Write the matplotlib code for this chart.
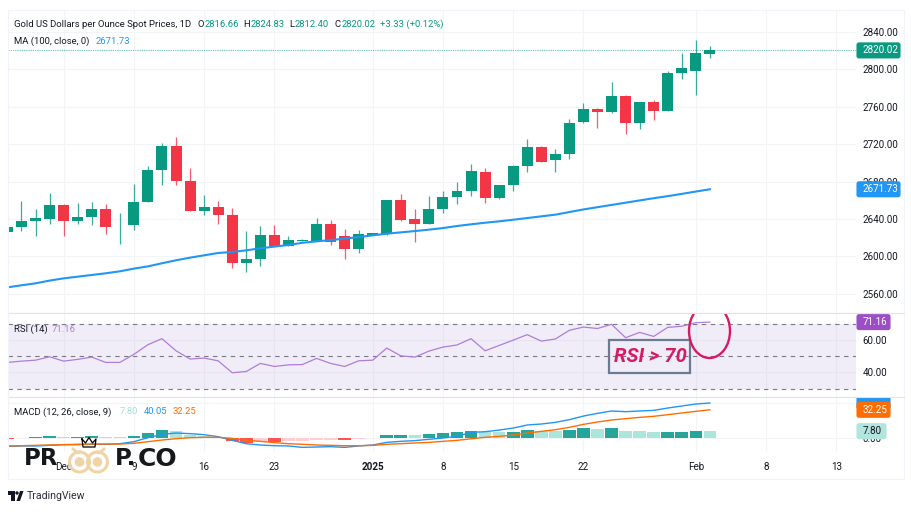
import matplotlib
matplotlib.use("Agg")
import matplotlib.pyplot as plt
from matplotlib.patches import Circle, Ellipse, FancyBboxPatch, Polygon, Rectangle

# Daily gold candles
opens = [2626.5, 2631.8, 2637.5, 2640.4, 2655.3, 2637.5, 2642.5, 2650.3, 2632.0, 2634.0,
         2658.2, 2692.3, 2717.9, 2680.2, 2648.9, 2653.2, 2643.9, 2593.0, 2597.3, 2623.3,
         2611.5, 2616.5, 2616.1, 2634.6, 2621.8, 2608.3, 2623.2, 2623.6, 2660.2, 2640.0,
         2635.0, 2650.3, 2663.8, 2669.9, 2689.8, 2662.0, 2676.6, 2696.9, 2716.5, 2703.0,
         2709.0, 2743.2, 2757.0, 2754.2, 2771.3, 2742.1, 2764.6, 2755.3, 2796.3, 2798.0, 2816.66]
highs = [2632.0, 2659.6, 2650.3, 2667.4, 2655.6, 2656.7, 2657.8, 2656.0, 2646.0, 2677.5,
         2696.6, 2721.5, 2727.2, 2694.0, 2665.3, 2659.6, 2652.0, 2627.2, 2632.5, 2634.0,
         2621.8, 2619.0, 2640.7, 2638.9, 2628.9, 2628.2, 2625.2, 2660.5, 2666.3, 2650.6,
         2664.5, 2670.2, 2679.0, 2698.7, 2694.0, 2676.8, 2697.2, 2725.0, 2718.0, 2714.3,
         2746.4, 2763.5, 2759.0, 2786.6, 2772.8, 2764.8, 2766.7, 2798.4, 2817.6, 2831.1, 2824.83]
lows = [2626.0, 2627.2, 2621.5, 2634.7, 2622.2, 2634.7, 2633.2, 2624.0, 2613.7, 2628.3,
        2658.0, 2676.0, 2676.3, 2648.0, 2644.3, 2634.3, 2588.0, 2583.8, 2590.2, 2611.0,
        2611.0, 2616.0, 2616.0, 2612.2, 2596.9, 2603.3, 2622.5, 2623.0, 2638.0, 2615.4,
        2634.3, 2646.0, 2656.0, 2664.9, 2657.4, 2661.0, 2669.9, 2690.5, 2701.0, 2690.1,
        2704.0, 2743.0, 2736.8, 2752.8, 2731.1, 2735.7, 2745.7, 2755.0, 2789.1, 2772.8, 2812.40]
closes = [2631.8, 2637.5, 2640.7, 2655.3, 2637.5, 2642.5, 2650.3, 2631.5, 2633.0, 2658.5,
          2692.3, 2717.9, 2680.2, 2648.5, 2653.2, 2643.9, 2593.0, 2597.0, 2623.3, 2611.2,
          2617.2, 2618.0, 2634.6, 2615.4, 2607.6, 2624.0, 2625.0, 2659.9, 2638.5, 2635.0,
          2650.6, 2663.8, 2670.2, 2691.2, 2662.7, 2676.6, 2696.9, 2716.5, 2701.2, 2709.0,
          2742.9, 2757.0, 2754.6, 2771.3, 2742.1, 2764.6, 2755.3, 2795.9, 2801.2, 2817.3, 2820.02]
ma100 = [2567.0, 2569.2, 2571.3, 2574.2, 2576.6, 2578.4, 2580.2, 2582.0, 2584.1, 2587.0,
         2589.4, 2592.7, 2595.9, 2598.7, 2601.2, 2603.7, 2604.8, 2606.5, 2608.7, 2610.5,
         2612.2, 2614.6, 2616.1, 2617.5, 2619.0, 2620.7, 2622.5, 2624.3, 2625.7, 2627.1,
         2628.6, 2630.3, 2632.5, 2634.3, 2636.0, 2637.5, 2639.2, 2641.0, 2642.8, 2644.6,
         2647.4, 2650.2, 2652.6, 2655.0, 2657.4, 2659.8, 2662.2, 2664.4, 2666.8, 2669.3, 2671.73]
rsi = [46.2, 47.0, 47.6, 49.7, 47.0, 48.1, 49.5, 46.2, 46.2, 51.2,
       57.2, 60.9, 53.4, 48.3, 48.9, 47.2, 39.8, 40.6, 45.6, 43.7,
       44.7, 44.9, 48.7, 45.6, 43.7, 47.2, 47.6, 55.1, 50.3, 49.5,
       53.2, 55.7, 57.0, 60.9, 53.4, 56.7, 60.0, 63.4, 59.4, 60.7,
       66.1, 68.1, 67.2, 69.8, 61.5, 64.8, 62.3, 67.9, 68.6, 70.8, 71.16]
macd_line = [-9.5, -9.1, -9.1, -8.4, -7.6, -7.6, -7.2, -7.2, -6.5, -4.2,
             0.4, 4.2, 5.7, 5.0, 3.8, 1.5, -2.7, -6.5, -8.0, -8.8,
             -9.1, -10.7, -10.3, -9.9, -10.7, -9.1, -8.0, -5.0, -3.8, -3.0,
             -1.5, 0.0, 1.9, 6.5, 7.2, 9.1, 11.4, 14.9, 16.0, 17.9,
             21.0, 25.1, 28.2, 30.9, 30.1, 30.9, 31.6, 34.3, 36.6, 38.9, 40.05]
signal_line = [-9.1, -8.8, -8.4, -8.0, -7.6, -7.2, -6.9, -6.9, -6.9, -6.1,
               -4.2, -2.3, -0.8, 0.4, 0.8, 0.8, -0.4, -2.7, -3.8, -5.3,
               -6.5, -7.2, -8.0, -8.4, -8.8, -8.8, -8.4, -7.2, -6.5, -5.7,
               -5.0, -3.8, -2.7, -0.9, 0.8, 1.9, 3.4, 5.7, 7.6, 9.5,
               12.2, 15.6, 18.3, 20.6, 22.1, 23.6, 24.8, 26.7, 28.6, 30.5, 32.25]
macd_hist = [-0.8, -0.4, 0.8, 2.0, 0.8, 1.5, 2.5, 1.2, 1.0, 2.5,
             5.5, 8.8, 7.5, 4.0, 2.5, 1.0, -3.5, -5.3, -3.4, -4.6,
             -3.8, -3.7, -2.3, -1.9, -2.3, -1.2, -0.5, 3.0, 3.8, 3.0,
             4.2, 5.3, 6.5, 8.0, 6.9, 6.8, 7.2, 9.1, 8.0, 7.9,
             9.5, 11.0, 10.7, 11.1, 8.4, 8.0, 6.5, 7.2, 7.3, 8.4, 7.80]

date_ticks = [4, 9, 14, 19, 26, 31, 36, 41, 49, 54, 59]
date_labels = ["Dec", "9", "16", "23", "2025", "8", "15", "22", "Feb", "8", "13"]
price_ticks = [2560, 2600, 2640, 2680, 2720, 2760, 2800, 2840]
rsi_ticks = [40, 60]
macd_ticks = [0, 40]

GREEN = "#089981"
RED = "#F23645"
BLUE = "#2196F3"
ORANGE = "#FF6D00"
PURPLE = "#B07CD8"
PINK = "#D81B60"
GRID = "#F3F4F6"
BORDER = "#E0E3EB"
INK = "#131722"
FS = 7.1

plt.rcParams["font.family"] = ["Roboto", "DejaVu Sans"]

W, H = 912, 513
fig = plt.figure(figsize=(W / 100, H / 100), dpi=100)


def pane(top, bottom):
    return fig.add_axes([8 / W, 1 - bottom / H, 848 / W, (bottom - top) / H])


ax_price = pane(11, 313)
ax_rsi = pane(313, 397)
ax_macd = pane(397, 452)
x_vals = list(range(len(closes)))

for ax, ticks in [(ax_price, price_ticks), (ax_rsi, rsi_ticks), (ax_macd, macd_ticks)]:
    ax.set_xlim(0.04, 60.4)
    ax.yaxis.tick_right()
    ax.set_yticks(ticks)
    ax.set_yticklabels([f"{t:.2f}" for t in ticks])
    ax.set_xticks(date_ticks)
    ax.set_xticklabels([])
    ax.tick_params(length=0, pad=4.5, labelsize=FS, labelcolor=INK)
    ax.grid(True, color=GRID, linewidth=0.8)
    ax.set_axisbelow(True)
    for side in ["left", "right"]:
        ax.spines[side].set_visible(False)
    for side in ["top", "bottom"]:
        ax.spines[side].set_color(BORDER)
        ax.spines[side].set_linewidth(0.8)
ax_price.spines["top"].set_visible(False)

# Price pane
ax_price.set_ylim(2539.6, 2862.1)
colors = [GREEN if c >= o else RED for o, c in zip(opens, closes)]
ax_price.vlines(x_vals, lows, highs, colors=colors, linewidth=0.9, alpha=0.8, zorder=2)
ax_price.bar(x_vals, [abs(c - o) for o, c in zip(opens, closes)],
             bottom=[min(o, c) for o, c in zip(opens, closes)],
             width=0.78, color=colors, zorder=3)
ax_price.plot(x_vals, ma100, color=BLUE, linewidth=1.5, zorder=4)
ax_price.axhline(closes[-1], color=GREEN, linewidth=0.8, linestyle=(0, (1, 1)), alpha=0.6)

# RSI pane
ax_rsi.set_ylim(24.8, 76.8)
ax_rsi.axhspan(30, 70, color="#7E57C2", alpha=0.1, linewidth=0)
for level in [70, 50, 30]:
    ax_rsi.axhline(level, color="#787B86", linewidth=0.8, linestyle=(0, (4, 4)))
ax_rsi.plot(x_vals, rsi, color=PURPLE, linewidth=0.9, zorder=4)

# MACD pane
ax_macd.set_ylim(-16, 46.9)
hist_colors = []
for i, v in enumerate(macd_hist):
    prev = macd_hist[i - 1] if i else 0
    if v >= 0:
        hist_colors.append("#26A69A" if v > prev else "#ACE5DC")
    else:
        hist_colors.append("#FF5252" if v < prev else "#FFCDD2")
ax_macd.bar(x_vals, macd_hist, width=0.9, color=hist_colors, zorder=2)
ax_macd.plot(x_vals, macd_line, color=BLUE, linewidth=1.0, zorder=3)
ax_macd.plot(x_vals, signal_line, color=ORANGE, linewidth=1.0, zorder=4)
ax_macd.spines["bottom"].set_visible(False)
ax_macd.set_xticklabels(date_labels)
ax_macd.tick_params(axis="x", pad=7)
for lab, txt in zip(ax_macd.get_xticklabels(), date_labels):
    if txt == "2025":
        lab.set_fontweight("bold")

# Everything below sits on a pixel overlay: legends, price tags, notes, logos
over = fig.add_axes([0, 0, 1, 1], zorder=10)
over.set_xlim(0, W)
over.set_ylim(H, 0)
over.axis("off")
over.add_patch(Rectangle((8, 10), 896, 469, fill=False, edgecolor="#F0F3FA", linewidth=0.8))
over.plot([856, 904], [313, 313], color=BORDER, linewidth=0.8)
over.plot([856, 904], [397, 397], color=BORDER, linewidth=0.8)


def px_y(ax, value):
    return H - ax.transData.transform((0, value))[1]


def tag(ax, value, label, face, text_color="white", width=44, clip=None):
    y = px_y(ax, value)
    box = FancyBboxPatch((857.5, y - 7), width - 2, 14, boxstyle="round,pad=0,rounding_size=1.5",
                         facecolor=face, edgecolor=face, linewidth=1.5)
    over.add_patch(box)
    if clip is not None:
        box.set_clip_path(Rectangle(clip[:2], clip[2], clip[3], transform=over.transData))
    if label:
        over.text(862.5, y, label, color=text_color, fontsize=FS, va="center", ha="left")


tag(ax_price, closes[-1], f"{closes[-1]:.2f}", GREEN)
tag(ax_price, ma100[-1], f"{ma100[-1]:.2f}", BLUE)
tag(ax_rsi, rsi[-1], f"{rsi[-1]:.2f}", "#9C4FC4", width=34)
tag(ax_macd, macd_line[-1], "", BLUE, width=34, clip=(850, 397.5, 50, 10))
tag(ax_macd, signal_line[-1], f"{signal_line[-1]:.2f}", ORANGE, width=34)
tag(ax_macd, macd_hist[-1], f"{macd_hist[-1]:.2f}", "#B2E5DD", text_color=INK, width=30)


def legend(x, y, label, color=INK, size=6.8):
    over.text(x, y, label, color=color, fontsize=size, va="center", ha="left")


legend(14, 24.5, "Gold US Dollars per Ounce Spot Prices, 1D")
legend(198, 24.5, "O")
legend(204.5, 24.5, f"{opens[-1]:.2f}", GREEN)
legend(243, 24.5, "H")
legend(250.5, 24.5, f"{highs[-1]:.2f}", GREEN)
legend(289, 24.5, "L")
legend(295, 24.5, f"{lows[-1]:.2f}", GREEN)
legend(335, 24.5, "C")
legend(341.5, 24.5, f"{closes[-1]:.2f}", GREEN)
legend(380, 24.5, "+3.33 (+0.12%)", GREEN)
legend(14, 41, "MA (100, close, 0)")
legend(96, 41, f"{ma100[-1]:.2f}", BLUE)
legend(14, 329, "RSI (14)")
legend(52, 329, f"{rsi[-1]:.2f}", PURPLE)
legend(14, 412, "MACD (12, 26, close, 9)")
legend(120, 412, f"{macd_hist[-1]:.2f}", "#A5DFD5")
legend(144, 412, f"{macd_line[-1]:.2f}", BLUE)
legend(173, 412, f"{signal_line[-1]:.2f}", ORANGE)

# RSI > 70 note and the circle round the last reading
over.add_patch(Rectangle((609.5, 339.5), 80.5, 33.5, fill=False, edgecolor="#6B7A90", linewidth=1.6))
over.text(650, 356.5, "RSI > 70", color=PINK, fontsize=14.5, style="italic", fontweight="bold",
          ha="center", va="center")
ring = Ellipse((709.5, 331), 41, 54, fill=False, edgecolor=PINK, linewidth=1.7)
over.add_patch(ring)
ring.set_clip_path(Rectangle((680, 313.5), 60, 60, transform=over.transData))

# Site logo over the time axis
TAN = "#F0D3A6"
for cx in [79.5, 97.5]:
    over.add_patch(Circle((cx, 462), 10, fill=False, edgecolor=TAN, linewidth=2.2))
    over.add_patch(Circle((cx, 462), 4.8, facecolor=TAN, edgecolor="none"))
over.plot([73, 78, 80], [449, 453, 452], color=TAN, linewidth=2)
over.plot([104, 99, 97], [449, 453, 452], color=TAN, linewidth=2)
over.plot([82, 85.5, 89, 92.5, 96, 95, 83, 82], [439, 443, 437.5, 443, 439, 447, 447, 439],
          color="black", linewidth=0.9)
logo_font = dict(color="#17181B", fontweight="bold", family=["DejaVu Sans"], va="center", ha="left")
over.text(23.5, 458.5, "PR", fontsize=16.5, **logo_font)
over.text(115, 458.5, "P.", fontsize=16.5, **logo_font)
over.text(137.5, 458.5, "CO", fontsize=18, **logo_font)

# TradingView mark
over.add_patch(Polygon([(8, 491), (15, 491), (15, 501), (11.5, 501), (11.5, 494.5), (8, 494.5)],
                       facecolor=INK, edgecolor="none"))
over.add_patch(Circle((17, 493), 1.7, facecolor=INK, edgecolor="none"))
over.add_patch(Polygon([(16.5, 501), (20, 491), (23.5, 491), (20, 501)], facecolor=INK, edgecolor="none"))
over.text(27, 496, "TradingView", color="#2A2E39", fontsize=7.6, va="center", ha="left")

fig.savefig("out.png", dpi=100)
